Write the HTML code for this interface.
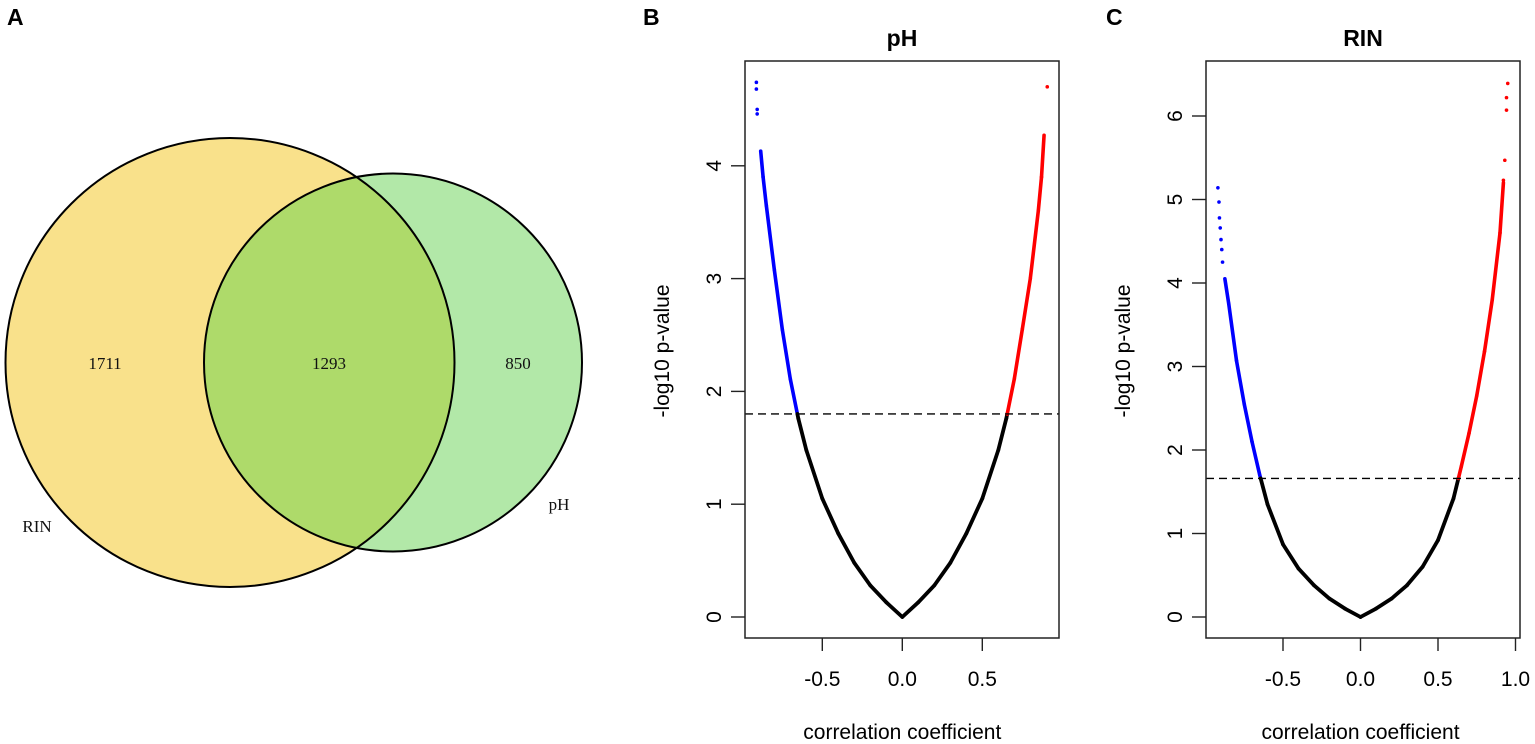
<!DOCTYPE html>
<html><head><meta charset="utf-8"><style>
html,body{margin:0;padding:0;background:#fff;}
svg{display:block;font-family:"Liberation Sans",Arial,sans-serif;}
</style></head><body>
<svg id="fig" width="1535" height="744" viewBox="0 0 1535 744" xmlns="http://www.w3.org/2000/svg">
  <g>
    <text x="7" y="25" font-size="23" font-weight="bold">A</text>
    <circle cx="230" cy="362.5" r="224.5" fill="#F9E18B"/>
    <circle cx="393" cy="362.5" r="189" fill="#B2E8A8"/>
    <clipPath id="clipY"><circle cx="230" cy="362.5" r="224.5"/></clipPath>
    <circle cx="393" cy="362.5" r="189" fill="#AEDA6A" clip-path="url(#clipY)"/>
    <circle cx="230" cy="362.5" r="224.5" fill="none" stroke="#000" stroke-width="2"/>
    <circle cx="393" cy="362.5" r="189" fill="none" stroke="#000" stroke-width="2"/>
    <g font-family="'Liberation Serif',serif" font-size="17" text-anchor="middle" fill="#111">
      <text x="105" y="369">1711</text>
      <text x="329" y="369">1293</text>
      <text x="518" y="369">850</text>
      <text x="37" y="532">RIN</text>
      <text x="559" y="510">pH</text>
    </g>
  </g>
  <g id="panelB"></g>
  <g id="panelC"></g>
</svg>
<script>
// ---- Panel B (pH) data ----
const phR = [-0.885,-0.87,-0.85,-0.8,-0.75,-0.7,-0.65,-0.6,-0.5,-0.4,-0.3,-0.2,-0.1,0,0.1,0.2,0.3,0.4,0.5,0.6,0.65,0.7,0.75,0.8,0.85,0.87,0.886];
const phY = [4.13,3.9,3.65,3.08,2.55,2.11,1.76,1.48,1.05,0.74,0.48,0.28,0.13,0,0.13,0.28,0.48,0.74,1.05,1.48,1.76,2.11,2.55,3.0,3.6,3.9,4.27];
const phDotR = [-0.912,-0.912,-0.907,-0.907,0.906];
const phDotY = [4.74,4.68,4.50,4.46,4.70];
const phThreshold = 1.80;
const phYTicks = [0,1,2,3,4];
const phXTicks = ["-0.5","0.0","0.5"];
// ---- Panel C (RIN) data ----
const rinR = [-0.875,-0.85,-0.8,-0.75,-0.7,-0.65,-0.6,-0.5,-0.4,-0.3,-0.2,-0.1,0,0.1,0.2,0.3,0.4,0.5,0.6,0.65,0.7,0.75,0.8,0.85,0.9,0.922];
const rinY = [4.05,3.75,3.07,2.55,2.1,1.7,1.35,0.87,0.58,0.38,0.22,0.1,0,0.1,0.22,0.38,0.6,0.92,1.42,1.8,2.2,2.65,3.18,3.8,4.6,5.2];
const rinDotR = [-0.92,-0.913,-0.91,-0.905,-0.9,-0.895,-0.89,0.922,0.931,0.942,0.942,0.95];
const rinDotY = [5.14,4.97,4.78,4.66,4.52,4.4,4.25,5.23,5.47,6.22,6.07,6.39];
const rinThreshold = 1.66;
const rinYTicks = [0,1,2,3,4,5,6];
const rinXTicks = ["-0.5","0.0","0.5","1.0"];

const NS = "http://www.w3.org/2000/svg";
function mk(tag, attrs, parent){
  const e = document.createElementNS(NS, tag);
  for (const k in attrs) e.setAttribute(k, attrs[k]);
  parent.appendChild(e);
  return e;
}

function drawPanel(g, cfg){
  const sx = r => cfg.x0 + r * cfg.pxPerX;
  const sy = v => cfg.y0 - v * cfg.pxPerY;
  let t = mk("text", {x: cfg.letterX, y: 25, "font-size": 23, "font-weight": "bold"}, g);
  t.textContent = cfg.letter;
  
  
  t = mk("text", {x: (cfg.left+cfg.right)/2, y: 46, "font-size": 23, "font-weight": "bold", "text-anchor": "middle"}, g);
  t.textContent = cfg.title;
  
  
  const n = cfg.r.length;
  for (let i = 0; i < n - 1; i++) {
    const r1 = cfg.r[i], r2 = cfg.r[i+1], y1 = cfg.y[i], y2 = cfg.y[i+1];
    const pieces = [];
    if ((y1 - cfg.thr) * (y2 - cfg.thr) < 0) {
      const f = (cfg.thr - y1) / (y2 - y1);
      const rm = r1 + f * (r2 - r1);
      pieces.push([r1, y1, rm, cfg.thr], [rm, cfg.thr, r2, y2]);
    } else pieces.push([r1, y1, r2, y2]);
    for (const p of pieces) {
      const ym = (p[1] + p[3]) / 2, rm = (p[0] + p[2]) / 2;
      const col = ym <= cfg.thr + 1e-9 ? "#000" : (rm < 0 ? "#0000FF" : "#FF0000");
      const ln = mk("line", {x1: sx(p[0]), y1: sy(p[1]), x2: sx(p[2]), y2: sy(p[3]), stroke: col, "stroke-width": col === "#000" ? 3.8 : 3.6, "stroke-linecap": "round"}, g);
      
      
    }
  }
  for (let i = 0; i < cfg.dr.length; i++) {
    const c = mk("circle", {cx: sx(cfg.dr[i]), cy: sy(cfg.dy[i]), r: 1.8, fill: cfg.dr[i] < 0 ? "#0000FF" : "#FF0000"}, g);
    
    
  }
  const dl = mk("line", {x1: cfg.left, x2: cfg.right, y1: sy(cfg.thr), y2: sy(cfg.thr), stroke: "#000", "stroke-width": 1.4, "stroke-dasharray": "8,5"}, g);
  
  
  const bx = mk("rect", {x: cfg.left, y: 61, width: cfg.right - cfg.left, height: 577, fill: "none", stroke: "#222", "stroke-width": 1.5}, g);
  
  
  for (const v of cfg.yTicks) {
    const yy = sy(v);
    const tk = mk("line", {x1: cfg.left - 14, x2: cfg.left, y1: yy, y2: yy, stroke: "#222", "stroke-width": 1.4}, g);
    
    
    const lb = mk("text", {x: 0, y: 0, "font-size": 21, "text-anchor": "middle", transform: `translate(${cfg.left - 31},${yy}) rotate(-90)`, dy: 7}, g);
    lb.textContent = String(v);
    
    
  }
  for (const s of cfg.xTicks) {
    const xx = sx(parseFloat(s));
    const tk = mk("line", {x1: xx, x2: xx, y1: 638, y2: 651, stroke: "#222", "stroke-width": 1.4}, g);
    
    
    const lb = mk("text", {x: xx, y: 686, "font-size": 21, "text-anchor": "middle"}, g);
    lb.textContent = s;
    
    
  }
  let xl = mk("text", {x: cfg.x0, y: 739, "font-size": 21, "text-anchor": "middle"}, g);
  xl.textContent = "correlation coefficient";
  
  
  let yl = mk("text", {x: 0, y: 0, "font-size": 21, "text-anchor": "middle", transform: `translate(${cfg.left - 83},351) rotate(-90)`, dy: 7}, g);
  yl.textContent = "-log10 p-value";
  
  
}

drawPanel(document.getElementById("panelB"), {
  letter: "B", letterX: 643, title: "pH", left: 745, right: 1059,
  x0: 902.3, pxPerX: 160, y0: 617, pxPerY: 112.8,
  r: phR, y: phY, dr: phDotR, dy: phDotY, thr: phThreshold,
  yTicks: phYTicks, xTicks: phXTicks
});
drawPanel(document.getElementById("panelC"), {
  letter: "C", letterX: 1106, title: "RIN", left: 1206, right: 1520,
  x0: 1360.5, pxPerX: 155, y0: 617, pxPerY: 83.5,
  r: rinR, y: rinY, dr: rinDotR, dy: rinDotY, thr: rinThreshold,
  yTicks: rinYTicks, xTicks: rinXTicks
});
</script>
</body></html>
